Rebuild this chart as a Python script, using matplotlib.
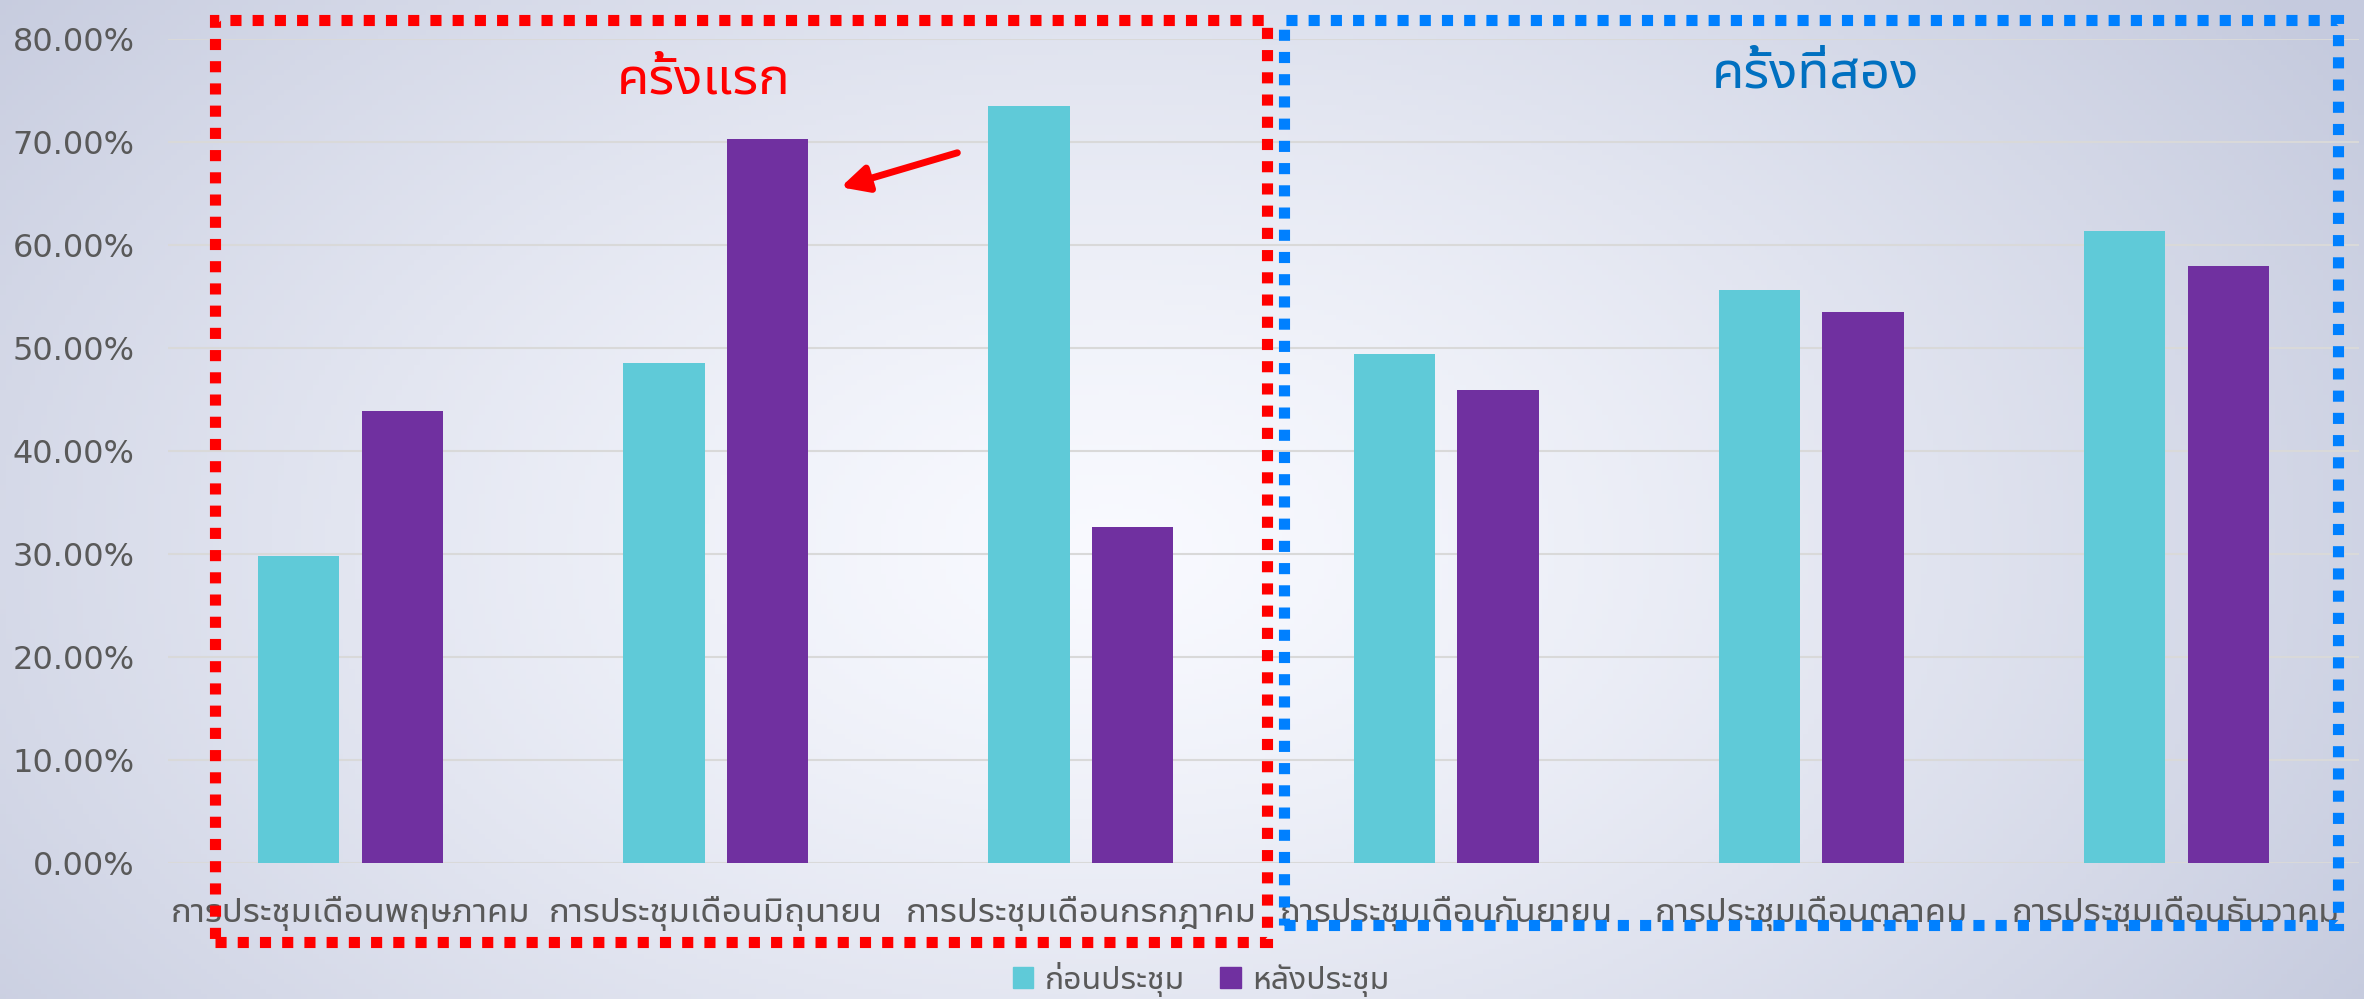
import numpy as np
import matplotlib
matplotlib.use("Agg")
import matplotlib.pyplot as plt
import matplotlib.font_manager as fm
from matplotlib.ft2font import FT2Font
from matplotlib.patches import Rectangle, FancyArrowPatch, Patch

# ข้อมูล
months = ["การประชุมเดือนพฤษภาคม", "การประชุมเดือนมิถุนายน", "การประชุมเดือนกรกฎาคม",
          "การประชุมเดือนกันยายน", "การประชุมเดือนตุลาคม", "การประชุมเดือนธันวาคม"]
before = [0.298, 0.485, 0.735, 0.494, 0.556, 0.614]
after = [0.439, 0.703, 0.326, 0.459, 0.535, 0.580]
series_names = ["ก่อนประชุม", "หลังประชุม"]
yticks = [0.0, 0.1, 0.2, 0.3, 0.4, 0.5, 0.6, 0.7, 0.8]

# หาฟอนต์ที่มีอักษรไทย
cands = []
for path in fm.findSystemFonts():
    try:
        if 0x0E01 in FT2Font(path).get_charmap():
            cands.append(path)
    except Exception:
        pass

def rank(p):
    n = p.lower().replace(" ", "")
    if "notosansthai" in n and "looped" not in n:
        return 0 if "ui" in n else 1
    return 5

cands.sort(key=rank)
names = []
for p in cands:
    fm.fontManager.addfont(p)
    names.append(fm.FontProperties(fname=p).get_name())
if names:
    plt.rcParams["font.family"] = [names[0], "DejaVu Sans"]

W, H = 2364, 999
fig = plt.figure(figsize=(W / 100, H / 100), dpi=100)

# พื้นหลังไล่สี
bg = fig.add_axes([0, 0, 1, 1], zorder=-10)
gx, gy = np.meshgrid(np.linspace(0, 1, 400), np.linspace(0, 1, 200))
r = np.sqrt(((gx - 0.47) / 0.62) ** 2 + ((gy - 0.55) / 0.9) ** 2)
r = np.clip(r, 0, 1)
c0 = np.array([0.975, 0.98, 1.0])
c1 = np.array([0.776, 0.796, 0.871])
img = c0 + (c1 - c0) * r[..., None] ** 1.3
bg.imshow(img, aspect="auto", extent=[0, 1, 0, 1])
bg.axis("off")

ax = fig.add_axes([168 / W, 1 - 863 / H, (2359 - 168) / W, (863 - 39) / H])
ax.set_facecolor("none")
x = np.arange(len(months))
w = 0.223
ax.bar(x - 0.142, before, w, color="#5FCAD8", zorder=3)
ax.bar(x + 0.142, after, w, color="#7030A0", zorder=3)
ax.set_xlim(-0.5, len(months) - 0.5)
ax.set_ylim(0, 0.8)
ax.set_yticks(yticks)
ax.set_yticklabels([f"{v * 100:.2f}%" for v in yticks])
ax.set_xticks(x)
ax.set_xticklabels(months)
ax.tick_params(axis="both", length=0, colors="#595959")
ax.tick_params(axis="y", pad=24, labelsize=23)
ax.tick_params(axis="x", pad=24, labelsize=25)
ax.yaxis.grid(True, color="#D9D9D9", lw=1.5, zorder=0)
ax.set_axisbelow(True)
for s in ax.spines.values():
    s.set_visible(False)
ax.axhline(0, color="#D9D9D9", lw=2, zorder=1)

def fx(px):
    return px / W

def fy(py):
    return 1 - py / H

# กรอบเส้นประ
for (x0, y0, x1, y1), col in [((1284, 20, 2338, 925), "#0080FF"),
                              ((215, 20, 1267, 942), "#FF0000")]:
    fig.add_artist(Rectangle((fx(x0), fy(y1)), fx(x1) - fx(x0), fy(y0) - fy(y1),
                             fill=False, ec=col, lw=8, ls=(0, (1, 1)),
                             capstyle="butt", transform=fig.transFigure, zorder=5))

fig.text(fx(704), fy(78), "ครั้งแรก", color="#FF0000", fontsize=38, ha="center", va="center")
fig.text(fx(1815), fy(72), "ครั้งที่สอง", color="#0070C0", fontsize=38, ha="center", va="center")

fig.add_artist(FancyArrowPatch((fx(960), fy(152)), (fx(838), fy(188)),
                               transform=fig.transFigure, arrowstyle="-|>",
                               mutation_scale=40, color="#FF0000", lw=5, zorder=6))

handles = [Patch(color="#5FCAD8"), Patch(color="#7030A0")]
fig.legend(handles, series_names, loc="center", bbox_to_anchor=(0.508, 0.02), ncol=2,
           frameon=False, fontsize=23, labelcolor="#595959", handlelength=0.65,
           handleheight=0.65, handletextpad=0.35, columnspacing=1.1)

fig.savefig("out.png", dpi=100)
